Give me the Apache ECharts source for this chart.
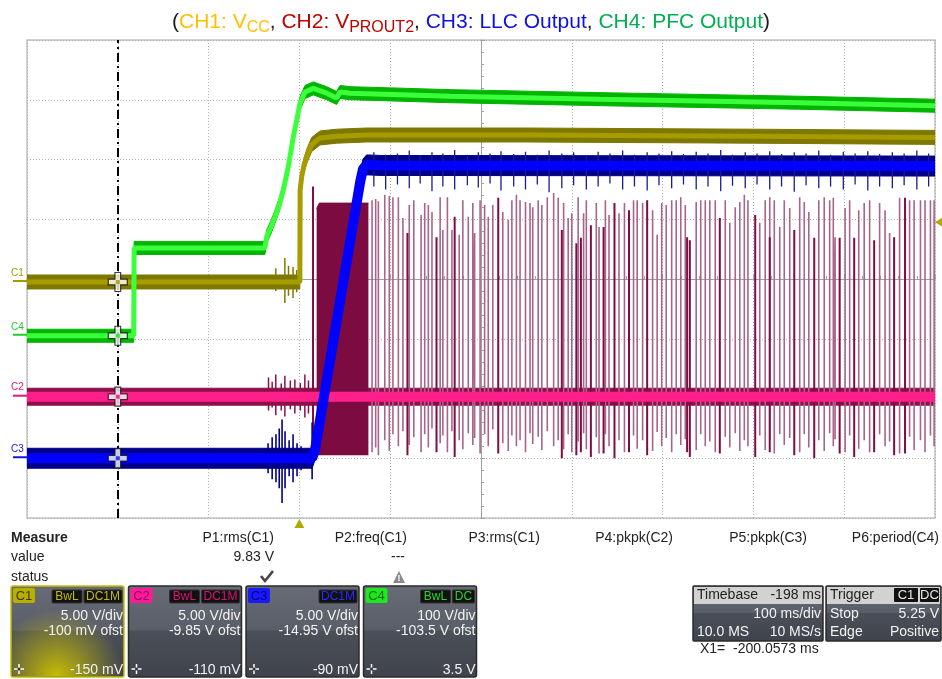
<!DOCTYPE html>
<html>
<head>
<meta charset="utf-8">
<script src="https://cdn.jsdelivr.net/npm/echarts@6/dist/echarts.min.js"></script>
<style>
html,body{margin:0;padding:0;background:#fff}
#main{width:942px;height:679px}
</style>
</head>
<body>
<div id="main"></div>
<script>
// time axis in ms (100 ms/div, trigger at 0), vertical axis in divisions
var timeMin = -300, timeMax = 700, timeStep = 100;
var divMin = -4, divMax = 4;

var cursorTime = -200;
var triggerTime = 0;
var triggerLevel = 1.0;

var groundNames = ['C1', 'C4', 'C2', 'C3'];
var groundLevels = [-0.05, -0.95, -1.97, -3.0];
var groundColors = ['#a39b00', '#22cc22', '#e0157f', '#1515e0'];

// CH1 Vcc
var c1Trace = [[-300,-0.05],[0.5,-0.05],[0.8,1.49],[2.5,1.71],[5,1.9],[8,2.05],[13.5,2.25],[22.7,2.36],[41,2.39],[74,2.41],[250,2.41],[500,2.39],[700,2.37]];
var c1Noise = [[-26,0.18,-0.2],[-16,0.35,-0.4],[-12,0.22,-0.28],[-7,0.2,-0.32],[-3,0.15,-0.22]];

// CH4 PFC output
var c4Trace = [[-300,-0.95],[-182.5,-0.95],[-182,0.52],[-38,0.52],[-36,0.71],[-31,0.88],[-26.9,1.04],[-22,1.25],[-17.7,1.49],[-12.2,1.88],[-6.7,2.38],[-2.9,2.66],[0.7,2.94],[6.2,3.13],[15.3,3.19],[30,3.11],[41,3.03],[44.7,3.13],[55.7,3.11],[166,3.06],[331,3.01],[551,2.95],[700,2.9]];

// CH2 Vprout2
var c2Trace = [[-300,-1.97],[200,-1.97],[700,-1.97]];
var c2Burst = [[19,1.18],[22,1.27],[76,1.27]];
var c2BurstBottom = -2.95;
var c2Noise = [[-34,-1.65,-2.2],[-30,-1.72,-2.15],[-26,-1.6,-2.28],[-20,-1.75,-2.2],[-16,-1.62,-2.3],[-10,-1.7,-2.18],[-5,-1.68,-2.25],[1,-1.74,-2.2],[6,-1.6,-2.32],[10,-1.7,-2.25]];
var c2Spikes = [[80,1.32,-2.9],[84,1.34,-2.82],[87,1.30,-2.95],[94,1.41,-2.7],[99,1.39,-2.88],[103,1.37,-2.6],[109,1.37,-2.8],[114,1.02,-2.55],[121,1.24,-2.78],[126,1.32,-2.65],[134,1.07,-2.9],[138,1.27,-2.6],[142,1.24,-2.82],[146,1.12,-2.5],[155,1.37,-2.75],[158,0.82,-2.62],[163,1.37,-2.9],[168,0.82,-2.55],[176,0.74,-2.7],[180,1.32,-2.85],[186,1.04,-2.58],[191,1.27,-2.78],[193,0.77,-2.66],[199,1.32,-2.92],[204,1.24,-2.6],[208,1.04,-2.8],[213,1.24,-2.52],[224,1.12,-2.75],[230,0.99,-2.88],[234,1.32,-2.62],[239,1.41,-2.8],[243,1.32,-2.7],[249,1.29,-2.9],[254,1.27,-2.58],[257,1.20,-2.76],[263,1.32,-2.64],[267,1.24,-2.86],[273,1.37,-2.55],[280,1.44,-2.8],[285,1.36,-2.7],
  [291,1.27,-2.85],[296,1.02,-2.6],[300,1.10,-2.9],[307,1.37,-2.72],[313,1.10,-2.58],[316,1.32,-2.85],[327,1.27,-2.65],[330,0.87,-2.92],[337,1.32,-2.6],[341,1.07,-2.8],[352,1.10,-2.7],[358,1.27,-2.9],[368,1.32,-2.62],[372,1.32,-2.84],[378,1.27,-2.7],[389,1.15,-2.88],[394,0.74,-2.56],[399,1.27,-2.8],[404,1.24,-2.66],[410,1.32,-2.9],[415,1.32,-2.6],[420,1.37,-2.78],[425,1.24,-2.68],[437,1.29,-2.86],[442,1.32,-2.6],[447,1.32,-2.8],[452,1.32,-2.72],[458,1.32,-2.9],[469,1.32,-2.64],[474,0.94,-2.82],[480,1.20,-2.58],[485,1.29,-2.88],[490,1.41,-2.7],[494,1.32,-2.8],
  [507,0.94,-2.62],[513,1.32,-2.86],[518,1.37,-2.7],[523,1.32,-2.92],[529,0.87,-2.6],[534,1.32,-2.78],[540,1.19,-2.66],[551,1.37,-2.9],[556,1.29,-2.6],[561,1.12,-2.82],[572,1.32,-2.7],[578,1.37,-2.88],[584,1.32,-2.58],[588,1.36,-2.8],[590,0.70,-2.68],[601,1.19,-2.9],[606,1.32,-2.62],[616,1.15,-2.84],[622,1.27,-2.7],[628,1.32,-2.9],[639,1.27,-2.6],[645,1.15,-2.8],[650,0.77,-2.72],[661,1.36,-2.92],[672,1.32,-2.64],[677,1.32,-2.86],[684,1.32,-2.7],[689,1.32,-2.9],[695,1.32,-2.62],[699,1.32,-2.8]];
var c2DarkSpikes = [[15,1.55,-2.95],[119,0.77,-2.95],[151,0.70,-2.9],[171,1.04,-2.98],[219,1.36,-2.92],[289,0.82,-3.0],[305,0.60,-2.95],[310,0.69,-2.9],[321,0.90,-2.98],[335,0.87,-2.92],[347,1.27,-3.0],[363,1.15,-2.9],[383,1.32,-2.95],[427,0.70,-2.9],[430,0.65,-2.98],[463,1.02,-2.92],[502,1.07,-2.98],[518,0.70,-2.9],[545,0.82,-2.95],[567,0.69,-3.0],[595,0.69,-2.92],[611,0.69,-2.98],[633,0.65,-2.9],[655,0.70,-2.95],[667,1.36,-2.92]];

// CH3 LLC output
var c3Trace = [[-300,-3.0],[14,-3.0],[17.2,-2.86],[30,-1.7],[45,-0.35],[60,1.0],[67,1.63],[70,1.84],[74,1.91],[90,1.9],[700,1.89]];
var c3Noise = [[-34.5,-2.75,-3.25],[-30,-2.65,-3.35],[-25.8,-2.6,-3.4],[-22.2,-2.5,-3.5],[-19.1,-2.35,-3.75],[-15.8,-2.55,-3.5],[-11.3,-2.7,-3.3],[-7,-2.6,-3.4],[-2.6,-2.75,-3.3],[1.8,-2.8,-3.2],[14,-2.4,-3.35]];
var c3Fringe = [[82,2.12,1.55],[95,2.08,1.5],[108,2.1,1.58],[121,2.15,1.52],[133,2.07,1.6],[146,2.12,1.47],[158,2.1,1.55],[171,2.16,1.5],[185,2.08,1.57],[197,2.12,1.53],[210,2.1,1.6],[222,2.14,1.48],[236,2.09,1.55],[249,2.13,1.5],[262,2.08,1.58],[275,2.15,1.45],[289,2.1,1.52],[302,2.12,1.57],[316,2.07,1.5],[329,2.13,1.55],[342,2.1,1.6],[356,2.15,1.5],[369,2.08,1.55],[383,2.12,1.48],[396,2.1,1.57],[410,2.14,1.52],[423,2.09,1.58],[437,2.13,1.5],[450,2.1,1.55],[464,2.16,1.47],[477,2.08,1.56],[491,2.12,1.52],[504,2.1,1.58],[518,2.14,1.5],[531,2.09,1.55],[545,2.12,1.46],[558,2.1,1.57],[572,2.15,1.52],[585,2.08,1.55],[599,2.13,1.5],[612,2.1,1.58],[626,2.14,1.48],[639,2.09,1.55],[653,2.12,1.52],[666,2.1,1.57],[680,2.15,1.5],[693,2.1,1.55]];

// bottom panel texts
var measureNames = ['P1:rms(C1)', 'P2:freq(C1)', 'P3:rms(C1)', 'P4:pkpk(C2)', 'P5:pkpk(C3)', 'P6:period(C4)'];
var measureValues = ['9.83 V', '---', '', '', '', ''];
var chNames = ['C1', 'C2', 'C3', 'C4'];
var chScale = ['5.00 V/div', '5.00 V/div', '5.00 V/div', '100 V/div'];
var chOffset = ['-100 mV ofst', '-9.85 V ofst', '-14.95 V ofst', '-103.5 V ofst'];
var chLevel = ['-150 mV', '-110 mV', '-90 mV', '3.5 V'];
var chBadges = [['BwL', 'DC1M'], ['BwL', 'DC1M'], ['DC1M'], ['BwL', 'DC']];

var FONT = '"Liberation Sans", Arial, sans-serif';

// trace drawn as a thick noise band (polygon) plus a brighter centre line
function band(trace, hw, outer, inner, innerW) {
  return [
    { type: 'custom', silent: true, clip: true, data: [trace[0]],
      renderItem: function (params, api) {
        var up = [], lo = [];
        trace.forEach(function (p) {
          up.push(api.coord([p[0], p[1] + hw]));
          lo.push(api.coord([p[0], p[1] - hw]));
        });
        return { type: 'polygon', shape: { points: up.concat(lo.reverse()) }, style: { fill: outer, stroke: outer, lineWidth: 1 } };
      } },
    { type: 'line', data: trace, symbol: 'none', lineStyle: { width: innerW, color: inner }, silent: true }
  ];
}

function spikes(list, base, color, width) {
  var pts = [];
  list.forEach(function (s) {
    pts.push([s[0], base], [s[0], s[1]], [s[0], s[2]], [s[0], base]);
  });
  return { type: 'line', data: pts, symbol: 'none', lineStyle: { color: color, width: width }, silent: true };
}

var series = [];
series.push({ type: 'line', data: c2Burst, symbol: 'none', silent: true,
  lineStyle: { color: '#7b0b41', width: 1 }, areaStyle: { color: '#7b0b41', opacity: 1, origin: c2BurstBottom } });
series.push(spikes(c2Spikes, -1.97, '#a8648a', 1.6));
series.push(spikes(c2DarkSpikes, -1.97, '#7e0d46', 2));
series.push(spikes(c2Noise, -1.97, '#8c1048', 1.5));
series = series.concat(band(c2Trace, 0.142, '#8c1048', '#ff1f8a', 10));
series.push(spikes(c1Noise, -0.05, '#7f7800', 1.5));
series = series.concat(band(c1Trace, 0.117, '#7f7800', '#a59d00', 5));
series = series.concat(band(c4Trace, 0.109, '#00b400', '#3cff3c', 5));
series.push(spikes(c3Noise, -3.0, '#00008a', 1.6));
series.push(spikes(c3Fringe, 1.89, '#1c1c8c', 1.3));
series = series.concat(band(c3Trace, 0.167, '#00008a', '#0000ff', 10));

// cursor and its crosses
series.push({
  type: 'scatter', silent: true, z: 6,
  symbol: 'path://M7,0 H13 V7 H20 V13 H13 V20 H7 V13 H0 V7 H7 Z', symbolSize: 19,
  itemStyle: { color: '#fff', borderColor: '#111', borderWidth: 1.2 },
  data: groundLevels.map(function (g) { return [cursorTime, g]; }),
  markLine: {
    silent: true, symbol: 'none', z: 5, label: { show: false },
    lineStyle: { color: '#000', width: 2, type: [9, 4, 2, 4] },
    data: [{ xAxis: cursorTime }]
  }
});
series.push({
  type: 'scatter', silent: true, z: 7, symbol: 'rect', symbolSize: 4,
  data: groundLevels.map(function (g, i) { return { value: [cursorTime, g], itemStyle: { color: groundColors[i] } }; })
});

var option = {
  animation: false,
  backgroundColor: '#fff',
  title: {
    left: 'center', top: 4,
    text: '{k|(}{y|CH1: V}{ys|CC}{k|, }{r|CH2: V}{rs|PROUT2}{k|, }{b|CH3: LLC Output}{k|, }{g|CH4: PFC Output}{k|)}',
    textStyle: {
      fontFamily: FONT, fontSize: 21, fontWeight: 'normal',
      rich: {
        k: { color: '#1a1a1a', fontSize: 21, fontFamily: FONT },
        y: { color: '#ffbf00', fontSize: 21, fontFamily: FONT },
        ys: { color: '#ffbf00', fontSize: 16, fontFamily: FONT, padding: [11, 0, 0, 0] },
        r: { color: '#c00000', fontSize: 21, fontFamily: FONT },
        rs: { color: '#c00000', fontSize: 16, fontFamily: FONT, padding: [11, 0, 0, 0] },
        b: { color: '#1010e0', fontSize: 21, fontFamily: FONT },
        g: { color: '#00b050', fontSize: 21, fontFamily: FONT }
      }
    }
  },
  grid: { left: 27, top: 40, right: 7, bottom: 161, show: true, borderColor: '#c2c2c2', borderWidth: 1.5, backgroundColor: '#fff' },
  xAxis: [{
    type: 'value', min: timeMin, max: timeMax, interval: timeStep,
    axisLabel: { show: false },
    splitLine: { show: true, lineStyle: { type: [1, 2], color: '#b0b0b0' } },
    axisLine: { show: true, onZero: true, lineStyle: { color: '#a0a0a0' } },
    axisTick: { show: true, inside: true, length: 4, lineStyle: { color: '#a0a0a0' } },
    minorTick: { show: true, splitNumber: 5, length: 3, lineStyle: { color: '#a0a0a0' } }
  }, {
    type: 'value', min: -500, max: 500, show: false
  }],
  yAxis: {
    type: 'value', min: divMin, max: divMax, interval: 1,
    axisLabel: { show: false },
    splitLine: { show: true, lineStyle: { type: [1, 2], color: '#b0b0b0' } },
    axisLine: { show: true, onZero: true, onZeroAxisIndex: 1, lineStyle: { color: '#a0a0a0' } },
    axisTick: { show: true, inside: true, length: 4, lineStyle: { color: '#a0a0a0' } },
    minorTick: { show: true, splitNumber: 5, length: 3, lineStyle: { color: '#a0a0a0' } }
  },
  series: series
};

var chart = echarts.init(document.getElementById('main'));
chart.setOption(option);

function toPx(t, v) { return chart.convertToPixel({ xAxisIndex: 0, yAxisIndex: 0 }, [t, v]); }

function txt(x, y, text, o) {
  o = o || {};
  return { type: 'text', x: x, y: y, z: 10, silent: true,
    style: { text: text, fill: o.fill || '#222', font: (o.weight || 'normal') + ' ' + (o.size || 14) + 'px ' + FONT,
      align: o.align || 'left', verticalAlign: 'middle' } };
}
function rect(x, y, w, h, fill, stroke, lw, r) {
  return { type: 'rect', z: 9, silent: true, shape: { x: x, y: y, width: w, height: h, r: r || 0 },
    style: { fill: fill, stroke: stroke || null, lineWidth: lw || 0 } };
}
function crosshair(x, y) {
  return [
    { type: 'line', z: 11, silent: true, shape: { x1: x - 5, y1: y, x2: x + 5, y2: y }, style: { stroke: '#fff', lineWidth: 1.5 } },
    { type: 'line', z: 11, silent: true, shape: { x1: x, y1: y - 5, x2: x, y2: y + 5 }, style: { stroke: '#fff', lineWidth: 1.5 } },
    { type: 'circle', z: 12, silent: true, shape: { cx: x, cy: y, r: 1.5 }, style: { fill: '#333' } }
  ];
}

var g = [];

// channel ground markers on the left
groundNames.forEach(function (n, i) {
  var p = toPx(timeMin, groundLevels[i]);
  g.push(txt(11, p[1] - 9, n, { fill: groundColors[i], size: 10 }));
  g.push({ type: 'line', z: 10, silent: true, shape: { x1: 13, y1: p[1] - 1, x2: 27, y2: p[1] - 1 }, style: { stroke: groundColors[i], lineWidth: 2 } });
});

// trigger level and trigger time markers
var tl = toPx(timeMax, groundLevels[0] + triggerLevel);
g.push({ type: 'polygon', z: 10, silent: true, shape: { points: [[943, tl[1] - 5], [935, tl[1]], [943, tl[1] + 5]] }, style: { fill: '#b3aa00' } });
var tt = toPx(triggerTime, divMin);
g.push({ type: 'polygon', z: 10, silent: true, shape: { points: [[tt[0] - 5, tt[1] + 10], [tt[0], tt[1] + 1], [tt[0] + 5, tt[1] + 10]] }, style: { fill: '#b3aa00' } });

// measurement table
var measureRight = [274, 407, 540, 673, 807, 939];
g.push(txt(11, 538, 'Measure', { weight: 'bold' }));
g.push(txt(11, 557, 'value'));
g.push(txt(11, 577, 'status'));
measureNames.forEach(function (n, i) {
  g.push(txt(measureRight[i], 538, n, { align: 'right' }));
  if (measureValues[i]) g.push(txt(measureRight[i] - (i === 1 ? 2 : 0), 557, measureValues[i], { align: 'right' }));
});
g.push({ type: 'polyline', z: 10, silent: true, shape: { points: [[261, 576], [265, 581], [273, 571]] }, style: { stroke: '#444', lineWidth: 2.6, fill: null } });
g.push({ type: 'polygon', z: 10, silent: true, shape: { points: [[393, 583], [399, 571], [405, 583]] }, style: { fill: '#8a8a8a' } });
g.push(txt(399, 579, '!', { fill: '#fff', size: 9, weight: 'bold', align: 'center' }));

// channel boxes
var boxGrad = new echarts.graphic.LinearGradient(0, 0, 0, 1, [
  { offset: 0, color: '#686c76' }, { offset: 0.48, color: '#5a5e68' },
  { offset: 0.5, color: '#4b4f58' }, { offset: 1, color: '#40434b' }]);
var labelBg = ['#b8b000', '#ff1a9c', '#1a1aff', '#1ee81e'];
var labelFg = ['#3a3800', '#8a0a50', '#000080', '#0a6a0a'];
var badgeFg = ['#c4bc00', '#e0107a', '#2a2aff', '#22dd22'];
chNames.forEach(function (n, i) {
  var x = 11 + i * 117.5, y = 586, w = 113, h = 91;
  g.push(rect(x, y, w, h, boxGrad, i === 0 ? '#c8c000' : '#2b2b2b', 1.5, 2));
  if (i === 0) {
    g.push(rect(x + 1, y + 1, w - 2, h - 2, new echarts.graphic.RadialGradient(0.4, 1, 0.75, [
      { offset: 0, color: 'rgba(205,195,0,0.95)' }, { offset: 1, color: 'rgba(205,195,0,0)' }]), null, 0, 2));
  }
  g.push(rect(x + 2, y + 2, 22, 15, labelBg[i], null, 0, 2));
  g.push(txt(x + 13, y + 10, n, { fill: labelFg[i], size: 13, align: 'center' }));
  var right = x + w - 2;
  for (var b = chBadges[i].length - 1; b >= 0; b--) {
    var bw = chBadges[i][b].length * 8 + 6;
    g.push(rect(right - bw, y + 4, bw, 13, '#111', '#333', 1, 1));
    g.push(txt(right - bw / 2, y + 11, chBadges[i][b], { fill: badgeFg[i], size: 12, align: 'center' }));
    right -= bw + 2;
  }
  g.push(txt(x + w - 1, y + 30, chScale[i], { fill: '#f2f2f2', size: 14, align: 'right' }));
  g.push(txt(x + w - 1, y + 45, chOffset[i], { fill: '#f2f2f2', size: 14, align: 'right' }));
  g.push(txt(x + w - 1, y + 84, chLevel[i], { fill: '#f2f2f2', size: 14, align: 'right' }));
  g = g.concat(crosshair(x + 8, y + 83));
});

// timebase box
g.push(rect(693, 586, 130, 55, boxGrad, '#2b2b2b', 1.5, 1));
g.push(rect(694, 587, 128, 17, '#d2d2d2', null, 0, 0));
g.push(txt(697, 595, 'Timebase', { size: 14 }));
g.push(txt(821, 595, '-198 ms', { size: 14, align: 'right' }));
g.push(txt(821, 614, '100 ms/div', { size: 14, align: 'right', fill: '#f2f2f2' }));
g.push(txt(697, 632, '10.0 MS', { size: 14, fill: '#f2f2f2' }));
g.push(txt(821, 632, '10 MS/s', { size: 14, align: 'right', fill: '#f2f2f2' }));

// trigger box
g.push(rect(826, 586, 115, 55, boxGrad, '#2b2b2b', 1.5, 1));
g.push(rect(827, 587, 113, 17, '#d2d2d2', null, 0, 0));
g.push(txt(830, 595, 'Trigger', { size: 14 }));
g.push(rect(894, 588, 24, 14, '#111', null, 0, 1));
g.push(txt(906, 595, 'C1', { size: 13, align: 'center', fill: '#e8e8e8' }));
g.push(rect(920, 588, 19, 14, '#111', null, 0, 1));
g.push(txt(929.5, 595, 'DC', { size: 13, align: 'center', fill: '#e8e8e8' }));
g.push(txt(830, 614, 'Stop', { size: 14, fill: '#f2f2f2' }));
g.push(txt(939, 614, '5.25 V', { size: 14, align: 'right', fill: '#f2f2f2' }));
g.push(txt(830, 632, 'Edge', { size: 14, fill: '#f2f2f2' }));
g.push(txt(939, 632, 'Positive', { size: 14, align: 'right', fill: '#f2f2f2' }));

g.push(txt(700, 649, 'X1=  -200.0573 ms', { size: 14 }));

chart.setOption({ graphic: g });
</script>
</body>
</html>
